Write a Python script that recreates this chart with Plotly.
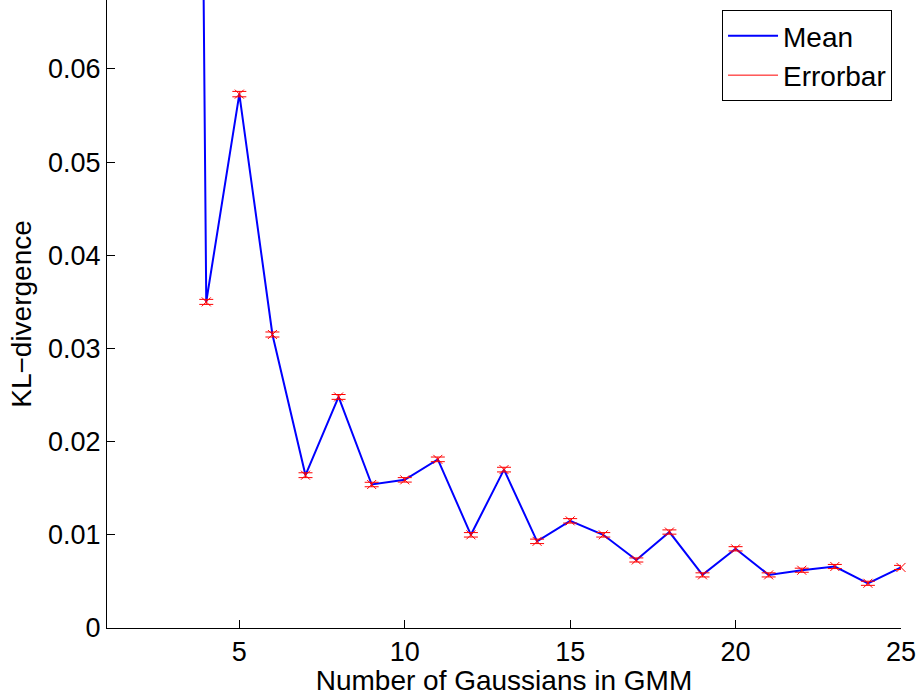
import plotly.graph_objects as go

# Data
n_gaussians = [3, 4, 5, 6, 7, 8, 9, 10, 11, 12, 13, 14, 15, 16, 17, 18, 19, 20, 21, 22, 23, 24, 25]
kl_mean = [0.45, 0.0350, 0.0573, 0.0315, 0.0164, 0.0248, 0.0154, 0.0159, 0.0181, 0.0100, 0.0170,
           0.0093, 0.0115, 0.0100, 0.0073, 0.0103, 0.0057, 0.0085, 0.0057, 0.0062, 0.0066, 0.0048, 0.0065]
kl_err = [0.0003, 0.00027, 0.00029, 0.00027, 0.00026, 0.00026, 0.00024, 0.00024, 0.00025, 0.00024, 0.00025,
          0.00024, 0.00024, 0.00024, 0.00022, 0.00023, 0.00022, 0.00023, 0.00022, 0.00022, 0.00022, 0.00022, 0.00022]
x_ticks = [5, 10, 15, 20, 25]
y_ticks = [0, 0.01, 0.02, 0.03, 0.04, 0.05, 0.06]
y_tick_labels = ["0", "0.01", "0.02", "0.03", "0.04", "0.05", "0.06"]

FONT = "Liberation Sans, Arial, sans-serif"

fig = go.Figure()
fig.add_trace(go.Scatter(
    x=n_gaussians, y=kl_mean, mode="lines", name="Mean",
    line=dict(color="#0000ff", width=2), cliponaxis=True,
))
fig.add_trace(go.Scatter(
    x=n_gaussians, y=kl_mean, mode="markers", name="Errorbar", showlegend=False,
    marker=dict(symbol="x-thin", size=9, line=dict(color="#ff0000", width=1), color="#ff0000"),
    error_y=dict(type="data", array=kl_err, visible=True, color="#ff0000", thickness=1, width=7),
    cliponaxis=False,
))
fig.add_trace(go.Scatter(
    x=[None], y=[None], mode="lines", name="Errorbar",
    line=dict(color="#ff0000", width=1),
))

fig.update_layout(
    width=920, height=696,
    margin=dict(l=107, r=19, t=0, b=68),
    paper_bgcolor="white", plot_bgcolor="white",
    font=dict(family=FONT, size=27, color="black"),
    showlegend=True,
    legend=dict(
        x=0.9887, xanchor="right", y=0.984, yanchor="top",
        bordercolor="black", borderwidth=1, bgcolor="white",
        font=dict(family=FONT, size=28, color="black"),
        tracegroupgap=0, itemwidth=50,
    ),
    xaxis=dict(
        range=[1, 25], tickvals=x_ticks, ticks="inside", ticklen=8, tickcolor="black",
        showline=True, linecolor="black", linewidth=1, showgrid=False, zeroline=False,
        mirror=False,
        title=dict(text="Number of Gaussians in GMM", standoff=0, font=dict(size=28)),
        tickfont=dict(size=27),
    ),
    yaxis=dict(
        range=[0, 0.0674], tickvals=y_ticks, ticktext=y_tick_labels, ticks="inside", ticklen=8,
        tickcolor="black", showline=True, linecolor="black", linewidth=1, showgrid=False,
        zeroline=False, mirror=False,
        title=dict(text="KL\u2212divergence", standoff=8, font=dict(size=28)),
        tickfont=dict(size=27),
    ),
)

fig.write_html(
    "out.html",
    config={"displayModeBar": False},
    post_script="document.body.style.margin='0';document.body.style.overflow='hidden';",
)
